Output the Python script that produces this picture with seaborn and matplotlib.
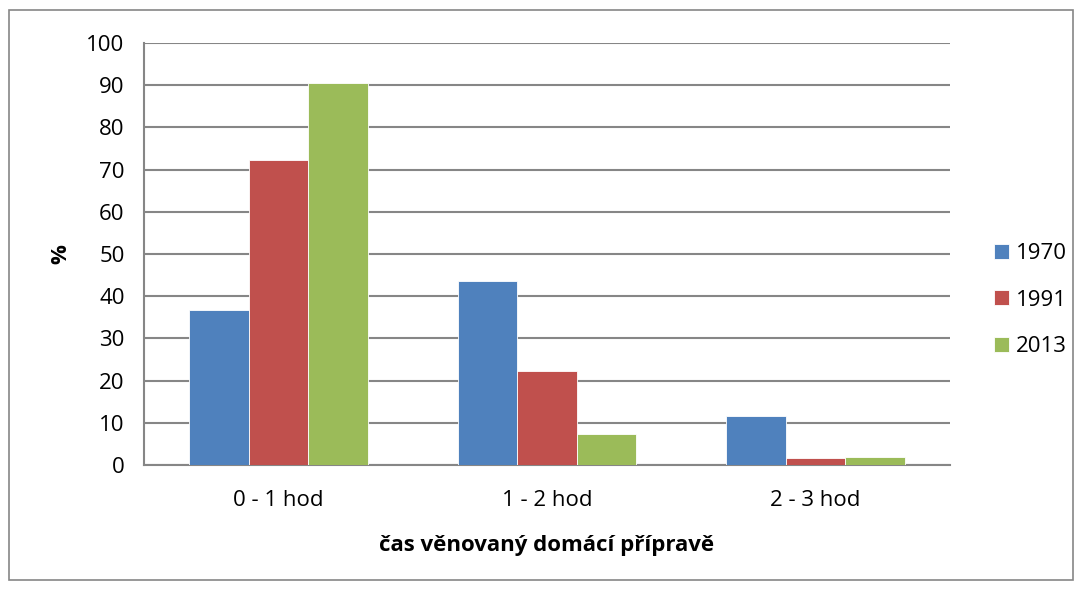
import pandas as pd
import seaborn as sns
import matplotlib.pyplot as plt
from matplotlib.patches import Rectangle

# Data
categories = ["0 - 1 hod", "1 - 2 hod", "2 - 3 hod"]
years = ["1970", "1991", "2013"]
values_1970 = [36.8, 43.5, 11.5]
values_1991 = [72.3, 22.2, 1.6]
values_2013 = [90.6, 7.4, 2.0]

colors = ["#4F81BD", "#C0504D", "#9BBB59"]
grid_color = "#868686"

df = pd.DataFrame({
    "kategorie": categories * 3,
    "rok": [y for y in years for _ in categories],
    "hodnota": values_1970 + values_1991 + values_2013,
})

sns.set_style("white")
plt.rcParams["font.family"] = ["Open Sans", "DejaVu Sans"]
plt.rcParams["text.color"] = "black"
plt.rcParams["axes.labelcolor"] = "black"
fs = 16

fig = plt.figure(figsize=(10.83, 5.89), dpi=100)
ax = fig.add_axes([0.133, 0.2105, 0.744, 0.7165])

sns.barplot(data=df, x="kategorie", y="hodnota", hue="rok", order=categories,
            hue_order=years, palette=colors, width=0.665, saturation=1,
            edgecolor="white", linewidth=0.6, ax=ax, zorder=3)

ax.set_ylim(0, 100)
ax.set_xlim(-0.5, 2.5)
ax.set_yticks(range(0, 101, 10))
ax.yaxis.grid(True, color=grid_color, linewidth=1.5, zorder=0)
ax.set_axisbelow(True)
for s in ["top", "right"]:
    ax.spines[s].set_visible(False)
for s in ["left", "bottom"]:
    ax.spines[s].set_color(grid_color)
    ax.spines[s].set_linewidth(1.5)
ax.tick_params(axis="y", length=4, width=1.5, color=grid_color, labelsize=fs,
               pad=10, labelcolor="black")
ax.tick_params(axis="x", length=0, labelsize=fs, pad=18, labelcolor="black")

ax.set_xlabel("čas věnovaný domácí přípravě", fontsize=fs, fontweight="bold", labelpad=17)
ax.set_ylabel("%", fontsize=fs, fontweight="bold")
ax.yaxis.set_label_coords(-0.09, 0.5)

handles, labels = ax.get_legend_handles_labels()
ax.legend_.remove()
fig.legend(handles, labels, loc="center left", bbox_to_anchor=(994 / 1083, 1 - 300 / 589),
           frameon=False, fontsize=fs, labelspacing=1.15, handlelength=0.68,
           handleheight=0.68, handletextpad=0.3, borderpad=0, borderaxespad=0)

# outer chart border
fig.patches.append(Rectangle((9 / 1083, 9 / 589), 1064 / 1083, 570 / 589,
                             transform=fig.transFigure, fill=False,
                             edgecolor=grid_color, linewidth=1.2))

fig.savefig("out.png", dpi=100)
